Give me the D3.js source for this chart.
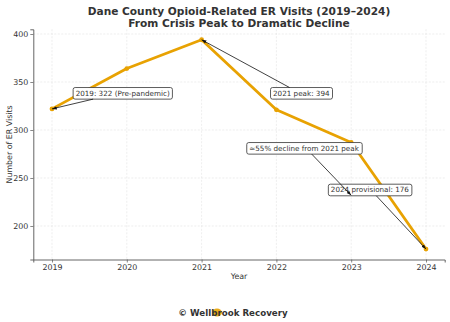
<!DOCTYPE html>
<html><head><meta charset="utf-8">
<script src="https://cdn.jsdelivr.net/npm/d3@7"></script>
<style>body{margin:0;background:#fff}svg{display:block}text{font-family:"DejaVu Sans",sans-serif}</style>
</head><body><svg id="c" width="450" height="322"></svg>
<script>
const years = [2019, 2020, 2021, 2022, 2023, 2024];
const visits = [322, 364, 394, 321, 287, 176];
const yTicks = [200, 250, 300, 350, 400];
const annLabels = ["2019: 322 (Pre-pandemic)", "2021 peak: 394", "≈55% decline from 2021 peak", "2024 provisional: 176"];
const annTarget = [[2019, 322], [2021, 394], [2023, 232], [2024, 176]];
const annText = [[2019.945, 338.2], [2022.333, 338.2], [2022.37, 280.9], [2023.25, 237.5]];

const svg = d3.select("#c");
const W = 450, H = 322;
const m = {l: 33.3, r: 5.3, t: 29.3, b: 62.5};
const x = d3.scaleLinear().domain([2018.75, 2024.25]).range([m.l, W - m.r]);
const y = d3.scaleLinear().domain([165.1, 404.9]).range([H - m.b, m.t]);

// grid
const g = svg.append("g");
g.selectAll(".gx").data(years).enter().append("line")
  .attr("x1", d => x(d)).attr("x2", d => x(d)).attr("y1", m.t).attr("y2", H - m.b)
  .attr("stroke", "#e2e2e2").attr("stroke-width", 0.6).attr("stroke-dasharray", "2,1.5");
g.selectAll(".gy").data(yTicks).enter().append("line")
  .attr("x1", m.l).attr("x2", W - m.r).attr("y1", d => y(d)).attr("y2", d => y(d))
  .attr("stroke", "#e2e2e2").attr("stroke-width", 0.6).attr("stroke-dasharray", "2,1.5");

// axes
const xa = svg.append("g").attr("transform", `translate(0,${H - m.b})`)
  .call(d3.axisBottom(x).tickValues(years).tickFormat(d3.format("d")).tickSize(3).tickPadding(2));
const ya = svg.append("g").attr("transform", `translate(${m.l},0)`)
  .call(d3.axisLeft(y).tickValues(yTicks).tickSize(3).tickPadding(2));
[xa, ya].forEach(a => {
  a.select(".domain").attr("stroke", "#555").attr("stroke-width", 0.9);
  a.selectAll(".tick line").attr("stroke", "#555").attr("stroke-width", 0.7);
  a.selectAll(".tick text").attr("fill", "#333").style("font-size", "7.9px").style("font-family", "DejaVu Sans");
});

// line
svg.append("path").datum(years.map((d, i) => [d, visits[i]]))
  .attr("d", d3.line().x(d => x(d[0])).y(d => y(d[1])))
  .attr("fill", "none").attr("stroke", "#e8a202").attr("stroke-width", 2.8).attr("stroke-linejoin", "round");
svg.selectAll(".pt").data(years).enter().append("circle")
  .attr("cx", d => x(d)).attr("cy", (d, i) => y(visits[i])).attr("r", 2.4).attr("fill", "#e8a202");

// annotations
svg.append("defs").append("marker").attr("id", "ah").attr("viewBox", "0 0 10 10")
  .attr("refX", 10).attr("refY", 5).attr("markerWidth", 6).attr("markerHeight", 6).attr("orient", "auto")
  .append("path").attr("d", "M0,1.5 L10,5 L0,8.5 Z").attr("fill", "#111");

const startOff = [20, 19, 65, 48];
const startBottom = [true, false, true, true];
const order = [0, 1, 3, 2];
order.forEach(i => {
  const tx = x(annText[i][0]), ty = y(annText[i][1]);
  const grp = svg.append("g");
  const t = grp.append("text").attr("x", tx).attr("y", ty).attr("text-anchor", "middle")
    .attr("dominant-baseline", "central").style("font-size", "7.2px").attr("fill", "#333").text(annLabels[i]);
  const bb = t.node().getBBox();
  const pad = 2.5;
  const bx = bb.x - pad, by = ty - 5.8, bw = bb.width + 2 * pad, bh = 11.6;
  const px = x(annTarget[i][0]), py = y(annTarget[i][1]);
  const sx = bx + startOff[i], sy = startBottom[i] ? by + bh : by;
  grp.insert("rect", "text").attr("x", bx).attr("y", by).attr("width", bw).attr("height", bh)
    .attr("rx", 2).attr("fill", "#fff").attr("stroke", "#333").attr("stroke-width", 0.8);
  svg.append("line").attr("x1", sx).attr("y1", sy).attr("x2", px).attr("y2", py)
    .attr("stroke", "#111").attr("stroke-width", 0.8).attr("marker-end", "url(#ah)");
});

// titles
const cx = (m.l + W - m.r) / 2;
svg.append("text").attr("x", cx).attr("y", 15).attr("text-anchor", "middle")
  .style("font-size", "10.6px").style("font-weight", "bold").attr("fill", "#333")
  .text("Dane County Opioid-Related ER Visits (2019–2024)");
svg.append("text").attr("x", cx).attr("y", 27).attr("text-anchor", "middle")
  .style("font-size", "10.6px").style("font-weight", "bold").attr("fill", "#333")
  .text("From Crisis Peak to Dramatic Decline");
svg.append("text").attr("x", cx).attr("y", 279).attr("text-anchor", "middle")
  .style("font-size", "7.9px").attr("fill", "#333").text("Year");
svg.append("text").attr("transform", `translate(12,${(m.t + H - m.b) / 2}) rotate(-90)`)
  .attr("text-anchor", "middle").style("font-size", "7.9px").attr("fill", "#333").text("Number of ER Visits");

// footer
svg.append("ellipse").attr("cx", 217).attr("cy", 312.5).attr("rx", 5).attr("ry", 4).attr("fill", "#e8a202").attr("opacity", 0.9);
svg.append("text").attr("x", 233).attr("y", 315.5).attr("text-anchor", "middle")
  .style("font-size", "8.7px").style("font-weight", "bold").attr("fill", "#333").text("© Wellbrook Recovery");
</script></body></html>
